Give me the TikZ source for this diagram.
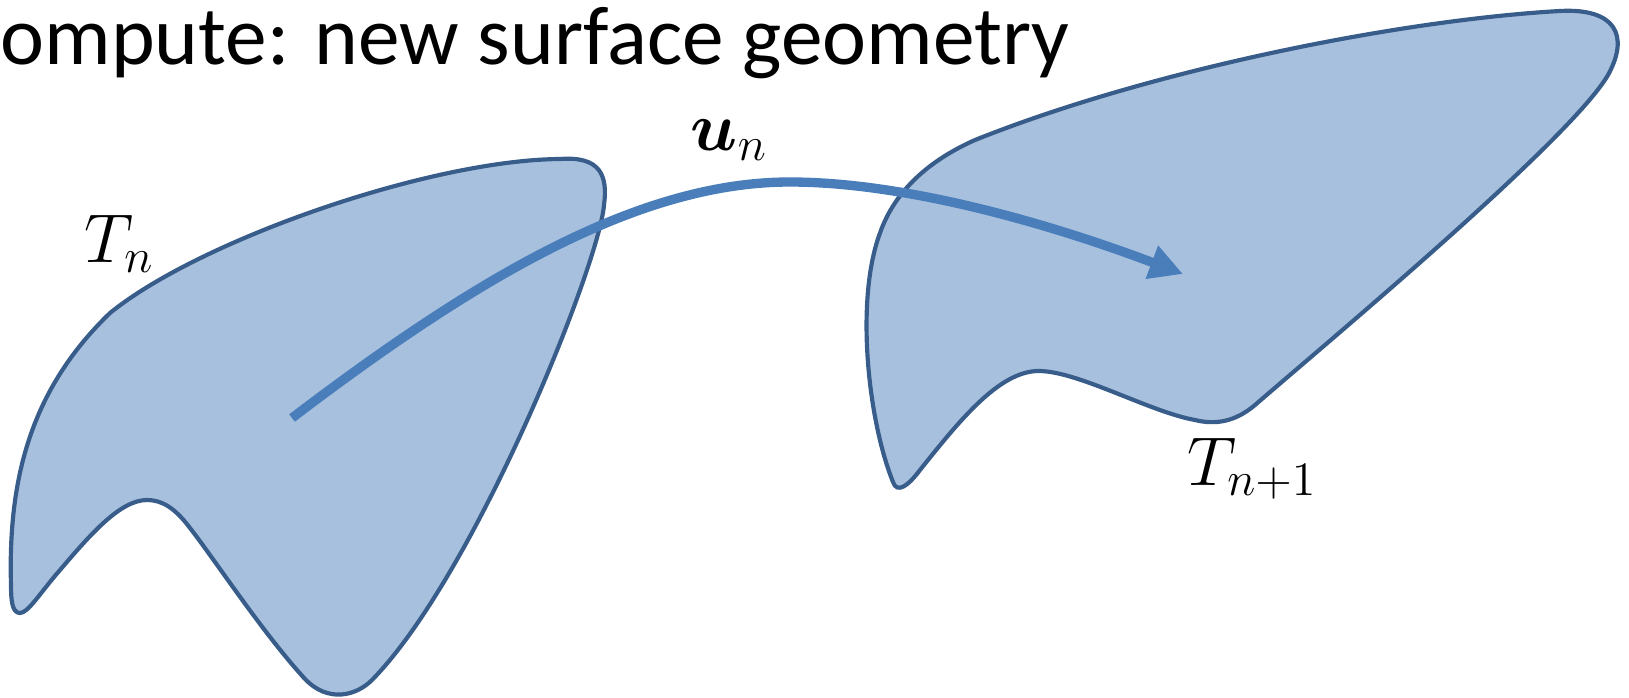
\documentclass[tikz,border=0pt]{standalone}
\usepackage{amsmath,bm}
\usepackage{fontspec}
\setmainfont{Carlito}
\usetikzlibrary{arrows.meta}
\definecolor{shapefill}{RGB}{167,192,222}
\definecolor{shapeline}{RGB}{56,93,138}
\definecolor{arrowcol}{RGB}{74,126,187}
\begin{document}
\begin{tikzpicture}[x=0.3pt,y=-0.3pt,
  surf/.style={fill=shapefill,draw=shapeline,line width=1.25pt,line join=round},
  motion/.style={draw=arrowcol,line width=2.8pt,-{Triangle[length=10pt,width=10pt]}},
  mathlbl/.style={inner sep=0pt,anchor=base west,font=\fontsize{19.5}{23}\selectfont},
  titletext/.style={inner sep=0pt,anchor=base west,font=\fontsize{25}{30}\selectfont}]
\useasboundingbox (0,0) rectangle (1629,698);

% title
\node[titletext] (title) at (0,64) {ompute: new surface geometry};

% surface T_n
\draw[surf] (20,613) .. controls (12,613) and (11,600) .. (11,585)
  .. controls (8,480) and (30,390) .. (110,313)
  .. controls (200,240) and (430,160) .. (560,159)
  .. controls (600,156) and (608,175) .. (604,205)
  .. controls (599,265) and (475,575) .. (372,680)
  .. controls (356,696) and (328,703) .. (305,679)
  .. controls (262,632) and (215,560) .. (190,528)
  .. controls (175,508) and (162,500) .. (147,500)
  .. controls (120,500) and (90,535) .. (60,570)
  .. controls (40,593) and (28,613) .. (20,613) -- cycle;

% surface T_{n+1}
\draw[surf] (893,482) .. controls (868,420) and (855,300) .. (880,233)
  .. controls (895,190) and (930,160) .. (975,140)
  .. controls (1150,70) and (1400,20) .. (1560,11)
  .. controls (1615,8) and (1630,35) .. (1608,75)
  .. controls (1570,140) and (1330,340) .. (1255,405)
  .. controls (1235,422) and (1215,425) .. (1195,420)
  .. controls (1150,412) and (1080,372) .. (1040,371)
  .. controls (1000,370) and (960,420) .. (920,470)
  .. controls (908,486) and (897,494) .. (893,482) -- cycle;

% displacement arrow
\coordinate (start) at (292,418);
\coordinate (peak) at (790,182);
\coordinate (tip) at (1183,274);
\draw[motion] (start) .. controls (480,275) and (640,182) .. (peak)
  .. controls (900,182) and (1040,220) .. (tip);

% labels
\node[mathlbl] (Tn) at (84,262) {$T_n$};
\node[mathlbl] (un) at (690,150) {$\boldsymbol{u}_n$};
\node[mathlbl] (Tn1) at (1187,485) {$T_{n+1}$};
\end{tikzpicture}
\end{document}
